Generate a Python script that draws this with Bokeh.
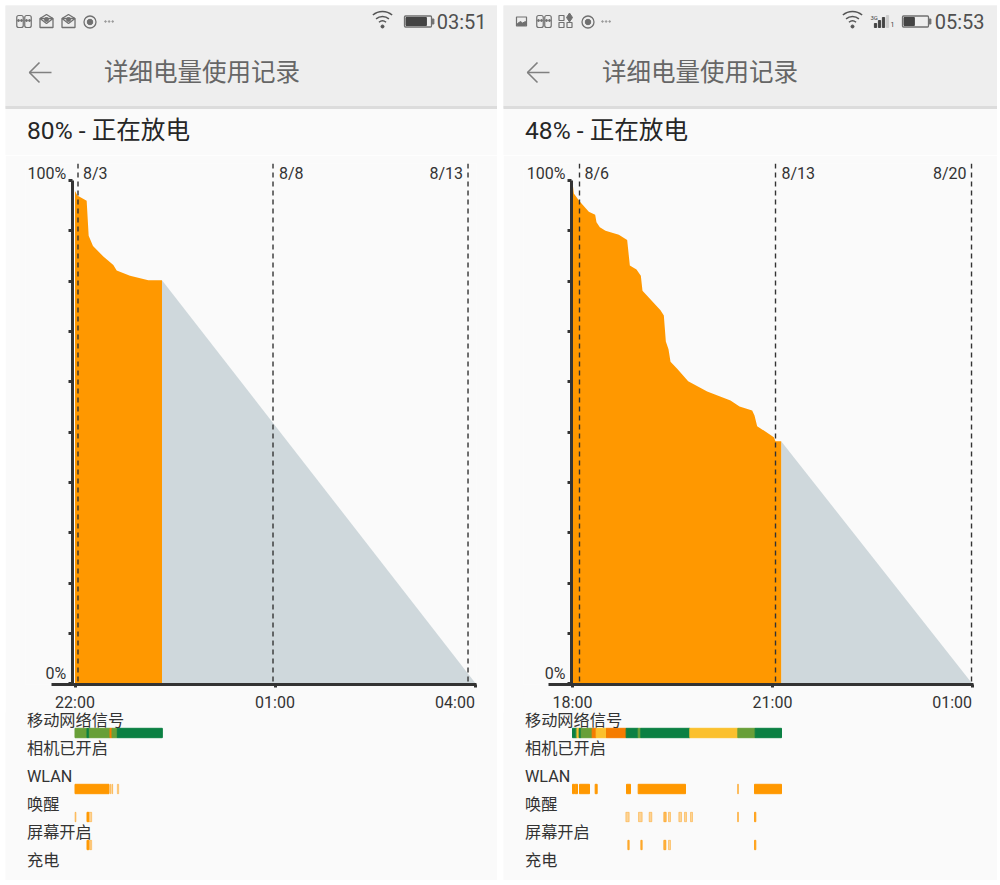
from bokeh.plotting import figure
from bokeh.layouts import row, column
from bokeh.models import Range1d, LinearAxis, FixedTicker, Span, Label
from bokeh.core.properties import value
from bokeh.embed import file_html
from bokeh.resources import INLINE
import math

# ---------- data ----------
row_names = ["移动网络信号", "相机已开启", "WLAN", "唤醒", "屏幕开启", "充电"]
y_ticks = [0, 10, 20, 30, 40, 50, 60, 70, 80, 90, 100]

left_status = "80% - 正在放电"
left_clock = "03:51"
left_hours = [0, 0, .035, .175, .205, .27, .425, .575, .625, .825, 1.1, 1.305]
left_level = [100, 97.9, 97, 96, 89, 87, 84.9, 83.2, 82.1, 81.1, 80.2, 80.2]
left_forecast_hours = [1.305, 6.015]
left_forecast_level = [80.2, 0]
left_time_ticks = [0, 3, 6]
left_time_labels = ["22:00", "01:00", "04:00"]
left_date_hours = [.045, 2.97, 5.895]
left_date_labels = ["8/3", "8/8", "8/13"]
left_signal = [(0, .18, "m"), (.18, .215, "d"), (.215, .525, "m"), (.525, .555, "o"),
               (.555, .635, "m"), (.635, 1.31, "d")]
left_wlan = [(0, .51, 1), (.53, .54, .4), (.555, .565, .4), (.635, .655, .4)]
left_wake = [(0, .015, .4), (.18, .205, 1), (.205, .25, .4)]
left_screen = [(.18, .205, 1), (.205, .215, .4), (.225, .25, .4)]

right_status = "48% - 正在放电"
right_clock = "05:53"
right_hours = [0, 0, .02, .105, .245, .34, .36, .41, .495, .695, .82, .86, .96, 1.025, 1.05, 1.32,
               1.37, 1.40, 1.44, 1.47, 1.57, 1.735, 2.02, 2.37, 2.505, 2.695, 2.73, 2.77, 3.02,
               3.045, 3.13]
right_level = [100, 99.7, 97.4, 95.9, 93.8, 93.2, 91.7, 90.7, 90, 89.2, 88.2, 83.1, 82.3, 81.1, 78.1, 74.2,
               73.2, 68, 66.5, 64, 62.6, 60.1, 58.1, 56.3, 55.1, 54.3, 53.3, 51.2, 49,
               48.2, 48.2]
right_forecast_hours = [3.13, 6.0]
right_forecast_level = [48.2, 0]
right_time_ticks = [0, 3, 6]
right_time_labels = ["18:00", "21:00", "01:00"]
right_date_hours = [.105, 3.045, 5.985]
right_date_labels = ["8/6", "8/13", "8/20"]
right_signal = [(0, .055, "d"), (.055, .07, "m"), (.07, .10, "a"), (.10, .13, "d"), (.13, .295, "m"),
                (.295, .355, "o"), (.355, .51, "a"), (.51, .805, "o"), (.805, .985, "d"),
                (.985, 1.025, "m"), (1.025, 1.76, "d"), (1.76, 2.48, "a"), (2.48, 2.74, "m"),
                (2.74, 3.135, "d")]
right_wlan = [(0, .03, 1), (.04, .075, 1), (.105, .255, 1), (.34, .37, 1), (.81, .87, 1),
              (.985, 1.695, 1), (2.475, 2.49, .5), (2.73, 3.135, 1)]
right_wake = [(.80, .85, .4), (.99, 1.045, .4), (1.15, 1.19, .4), (1.37, 1.405, .6), (1.44, 1.47, .4),
              (1.595, 1.635, .4), (1.68, 1.71, .4), (1.77, 1.80, .4), (2.475, 2.49, .5), (2.73, 2.75, .8)]
right_screen = [(.83, .85, .7), (1.025, 1.045, .7), (1.37, 1.40, .7), (1.44, 1.47, .4), (2.73, 2.75, .8)]

# ---------- style ----------
FONT = value("Roboto, 'Noto Sans CJK SC', sans-serif")
FONT_S = "Roboto, 'Noto Sans CJK SC', sans-serif"
BG = "#fafafa"
INK = "#333333"
ORANGE = "#ff9800"
GREY = "#cfd8dc"
SIGNAL = {"d": "#0b8043", "m": "#689f38", "a": "#fbc02d", "o": "#f57c00"}
ICON = "#707070"
PX_PER_HOUR = 66.67


def bare(p):
    p.axis.visible = False
    p.grid.visible = False
    p.outline_line_color = None
    p.background_fill_color = BG
    p.border_fill_color = BG


def ghost_icon(p, x, y):
    for dx in (0, 8):
        p.rect([x + dx + 3.5], [y], 6.5, 12, fill_color=None, line_color=ICON, line_width=1.2,
               border_radius=2)
    p.scatter([x + 2, x + 5, x + 10, x + 13], [y - 1] * 4, size=2, color=ICON)


def mail_icon(p, x, y):
    p.rect([x + 7], [y + 1.5], 13, 9, fill_color=None, line_color=ICON, line_width=1.3)
    p.line([x + .5, x + 7, x + 13.5], [y - 3, y - 7, y - 3], line_color=ICON, line_width=1.3)
    p.line([x + .5, x + 7, x + 13.5], [y - 3, y + 2, y - 3], line_color=ICON, line_width=1.3)
    p.scatter([x + 7], [y - 2], size=4, color=ICON)


def record_icon(p, x, y):
    p.scatter([x], [y], size=12, fill_color=None, line_color=ICON, line_width=1.3)
    p.scatter([x], [y], size=5.5, color=ICON)


def dots_icon(p, x, y):
    p.scatter([x, x + 3.6, x + 7.2], [y, y, y], size=1.6, color="#9a9a9a")


def image_icon(p, x, y):
    p.rect([x + 5], [y], 10, 9, fill_color=None, line_color=ICON, line_width=1.2)
    p.patch([x + 1, x + 4, x + 6, x + 9, x + 9, x + 1], [y + 2, y, y + 1.5, y, y + 4, y + 4], color=ICON)


def grid_icon(p, x, y):
    p.rect([x + 3, x + 3, x + 11], [y - 3.5, y + 3.5, y + 3.5], 5, 5, fill_color=None, line_color=ICON,
           line_width=1.2)
    p.scatter([x + 11], [y - 4], marker="diamond", size=9, color=ICON)


def wifi_icon(p, cx, y):
    for r in (15, 10, 5.5):
        p.arc([cx], [y + 5], [r], math.radians(50), math.radians(130), line_color="#555555", line_width=1.5)
    p.scatter([cx], [y + 5], size=3, color="#555555")


def battery_icon(p, x, y, frac, w=26):
    p.rect([x + w / 2], [y], w, 11, fill_color=None, line_color=ICON, line_width=1.3, border_radius=1)
    p.rect([x + 1.5 + (w - 3) * frac / 2], [y], (w - 3) * frac, 8, color="#444444")
    p.rect([x + w + 1.5], [y], 1.8, 5, color=ICON)


def signal_icon(p, x, y):
    p.vbar([x + 4, x + 8, x + 12], bottom=[y + 6] * 3, top=[y + 2, y - 1, y - 4], width=2.2, color="#444444")
    p.vbar([x + 16], bottom=[y + 6], top=[y - 6], width=2.2, color="#cccccc")
    p.text([x - 1], [y - 4], text=["3G"], text_font_size="6px", text_font=FONT, text_color="#444444",
           text_baseline="middle")
    p.text([x + 19], [y + 3], text=["1"], text_font_size="7px", text_font=FONT, text_color="#444444",
           text_baseline="middle")


def header(width, status, clock, icons):
    p = figure(width=width, height=150, output_backend="svg", toolbar_location=None, min_border=0,
               x_range=Range1d(0, width), y_range=Range1d(150, 0), frame_align=False)
    bare(p)
    p.quad(left=[0], right=[width], top=[0], bottom=[101], color="#eeeeee")
    p.quad(left=[0], right=[width], top=[101], bottom=[103], color="#dcdcdc")
    icons(p)
    p.text([481], [16], text=[clock], text_font=FONT, text_font_size="20px", text_color="#505050",
           text_align="right", text_baseline="middle")
    p.line([24, 46], [67, 67], line_color="#808080", line_width=1.6)
    p.line([34, 24, 34], [57, 67, 77], line_color="#808080", line_width=1.6)
    p.text([98.5], [67], text=["详细电量使用记录"], text_font=FONT, text_font_size="24.5px", text_color="#666666",
           text_baseline="middle")
    p.text([21.5], [125], text=[status], text_font=FONT, text_font_size="24.6px", text_color="#262626",
           text_baseline="middle")
    return p


def chart(width, origin_px, axis_px, axis_left_px, axis_right_px, hours, level, f_hours, f_level,
          ticks, tick_labels, label_ticks, dates, date_labels):
    frame_left_px = 20
    x_start = (frame_left_px - origin_px) / PX_PER_HOUR
    x_axis_start = (axis_left_px - origin_px) / PX_PER_HOUR
    x_end = (axis_right_px - origin_px) / PX_PER_HOUR
    scale = 5.035
    y_floor = -0.6 / scale
    axis_x = (axis_px - origin_px) / PX_PER_HOUR
    p = figure(width=width, height=562, output_backend="svg", toolbar_location=None,
               min_border_left=frame_left_px, min_border_right=width - axis_right_px,
               min_border_top=8, min_border_bottom=33, frame_align=False,
               x_range=Range1d(x_start, x_end),
               y_range=Range1d(y_floor, 100 + 17 / scale),
               x_axis_type=None, y_axis_type=None)
    p.grid.visible = False
    p.outline_line_color = None
    p.background_fill_color = BG
    p.border_fill_color = BG

    p.varea(x=f_hours, y1=[0] * len(f_hours), y2=f_level, color=GREY)
    p.varea(x=hours, y1=[0] * len(hours), y2=level, color=ORANGE)

    # axis line and tick marks
    xa = LinearAxis(ticker=FixedTicker(ticks=ticks), bounds=(x_axis_start, x_end),
                    major_label_overrides={t: "" for t in ticks},
                    axis_line_width=3, axis_line_color=INK, major_tick_line_width=3,
                    major_tick_line_color=INK, major_tick_in=0, major_tick_out=3,
                    minor_tick_line_color=None, major_label_text_font_size="1px",
                    major_label_standoff=0)
    p.add_layout(xa, "below")
    # time labels: the last one ends at the axis end, so it sits left of its tick
    xl = LinearAxis(ticker=FixedTicker(ticks=label_ticks),
                    major_label_overrides=dict(zip(label_ticks, tick_labels)),
                    axis_line_color=None, major_tick_line_color=None, minor_tick_line_color=None,
                    major_tick_in=0, major_tick_out=0,
                    major_label_text_font=FONT_S, major_label_text_font_size="16px",
                    major_label_text_color=INK, major_label_standoff=5)
    p.add_layout(xl, "below")

    ya = LinearAxis(ticker=FixedTicker(ticks=y_ticks), bounds=(0, 100), fixed_location=axis_x,
                    major_label_overrides={t: "" for t in y_ticks},
                    axis_line_width=3, axis_line_color=INK, major_tick_line_width=3,
                    major_tick_line_color=INK, major_tick_in=0, major_tick_out=4,
                    minor_tick_line_color=None, major_label_text_font_size="1px")
    p.add_layout(ya, "left")

    for d in dates:
        p.add_layout(Span(location=d, dimension="height", line_color="#333333", line_width=1.4,
                          line_dash="5 4"))
    common = dict(text_font=FONT_S, text_font_size="16px", text_color=INK, text_baseline="middle")
    p.add_layout(Label(x=dates[0], y=100, x_offset=5, y_offset=7, text=date_labels[0], **common))
    p.add_layout(Label(x=dates[1], y=100, x_offset=6, y_offset=7, text=date_labels[1], **common))
    p.add_layout(Label(x=dates[2], y=100, x_offset=-5, y_offset=7, text=date_labels[2], text_align="right",
                       **common))
    p.add_layout(Label(x=axis_x, y=100, x_offset=-6, y_offset=7, text="100%", text_align="right", **common))
    p.add_layout(Label(x=axis_x, y=0, x_offset=-6, y_offset=10, text="0%", text_align="right", **common))
    return p


def timeline(width, origin_px, signal, wlan, wake, screen):
    x_start = -origin_px / PX_PER_HOUR
    x_end = x_start + width / PX_PER_HOUR
    p = figure(width=width, height=168, output_backend="svg", toolbar_location=None, min_border=0,
               frame_align=False, x_range=Range1d(x_start, x_end), margin=(-5, 0, 0, 0),
               y_range=Range1d(5 + 7.5 / 28, -20.5 / 28))
    bare(p)
    h = 9.4 / 28
    p.hbar(y=[0] * len(signal), left=[s[0] for s in signal], right=[s[1] for s in signal], height=h,
           color=[SIGNAL[s[2]] for s in signal])
    for name, spans in (("WLAN", wlan), ("唤醒", wake), ("屏幕开启", screen)):
        r = row_names.index(name)
        p.hbar(y=[r] * len(spans), left=[s[0] for s in spans], right=[s[1] for s in spans], height=h,
               color=ORANGE, alpha=[s[2] for s in spans])
    p.text(x=[x_start] * len(row_names), y=list(range(len(row_names))), text=row_names, x_offset=21.5,
           y_offset=-12.5, text_font=FONT, text_font_size="16.2px", text_color=INK, text_baseline="middle")
    return p


def left_icons(p):
    ghost_icon(p, 11, 16)
    mail_icon(p, 34, 16)
    mail_icon(p, 56, 16)
    record_icon(p, 84.5, 16.5)
    dots_icon(p, 100, 16)
    wifi_icon(p, 377, 16)
    battery_icon(p, 399, 16, .85, 27)


def right_icons(p):
    image_icon(p, 13, 16)
    ghost_icon(p, 33, 16)
    grid_icon(p, 55, 16)
    record_icon(p, 84.5, 16.5)
    dots_icon(p, 99, 16)
    wifi_icon(p, 349, 16)
    signal_icon(p, 368, 16)
    battery_icon(p, 399, 16, .45, 26)


left_label_ticks = [0, 3, 5.7]
right_label_ticks = [0, 3, 5.695]

left_panel = column(
    header(492, left_status, left_clock, left_icons),
    chart(492, 69.5, 66.7, 46, 471, left_hours, left_level, left_forecast_hours, left_forecast_level,
          left_time_ticks, left_time_labels, left_label_ticks, left_date_hours, left_date_labels),
    timeline(492, 69.5, left_signal, left_wlan, left_wake, left_screen),
    spacing=0)
right_panel = column(
    header(494, right_status, right_clock, right_icons),
    chart(494, 69, 68, 45, 470, right_hours, right_level, right_forecast_hours, right_forecast_level,
          right_time_ticks, right_time_labels, right_label_ticks, right_date_hours, right_date_labels),
    timeline(494, 69, right_signal, right_wlan, right_wake, right_screen),
    spacing=0)
page = row(left_panel, right_panel, spacing=6, margin=(5, 0, 0, 5))

open("out.html", "w").write(file_html(page, INLINE))
